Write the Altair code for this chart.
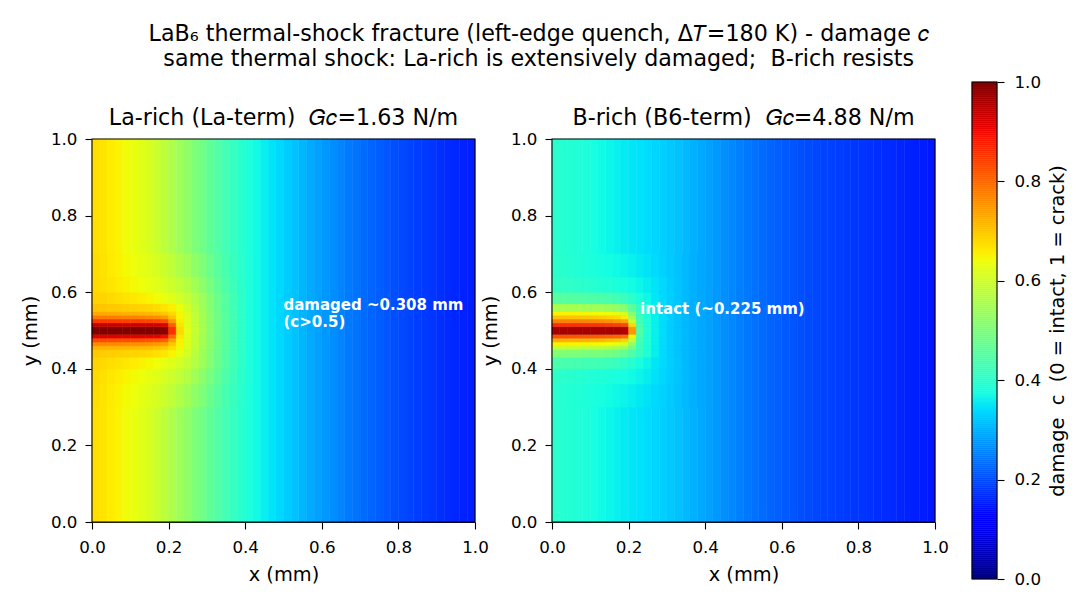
import altair as alt
import pandas as pd

# ---------------- data ----------------
X_STEP = 0.02  # width of one field column (mm); 50 columns span 0..1 mm

# damage c away from the crack, one value per column (centres 0.01 ... 0.99 mm)
bg_la = [0.675, 0.668, 0.660, 0.652, 0.643, 0.633, 0.622, 0.610, 0.595, 0.578,
         0.560, 0.541, 0.522, 0.503, 0.484, 0.465, 0.447, 0.430, 0.414, 0.399,
         0.385, 0.372, 0.360, 0.348, 0.337, 0.326, 0.315, 0.304, 0.293, 0.283,
         0.273, 0.264, 0.255, 0.246, 0.238, 0.230, 0.223, 0.216, 0.209, 0.203,
         0.197, 0.191, 0.186, 0.181, 0.176, 0.171, 0.166, 0.162, 0.158, 0.154]
bg_b = [0.400, 0.396, 0.392, 0.388, 0.384, 0.378, 0.372, 0.366, 0.361, 0.356,
        0.351, 0.346, 0.341, 0.335, 0.329, 0.322, 0.315, 0.307, 0.299, 0.291,
        0.283, 0.275, 0.267, 0.259, 0.251, 0.244, 0.237, 0.230, 0.224, 0.218,
        0.213, 0.208, 0.203, 0.199, 0.195, 0.191, 0.188, 0.185, 0.182, 0.179,
        0.176, 0.173, 0.170, 0.167, 0.164, 0.161, 0.158, 0.155, 0.152, 0.149]

# crack zone: row edges in y (mm); each row holds the first 20 columns (x 0..0.40 mm)
zone_y = [0.30, 0.36, 0.40, 0.43, 0.45, 0.46, 0.47, 0.48, 0.49, 0.51,
          0.52, 0.53, 0.54, 0.55, 0.57, 0.60, 0.64, 0.70]

zone_la = [
    [0.676, 0.669, 0.661, 0.653, 0.645, 0.637, 0.628, 0.619, 0.608, 0.595, 0.580, 0.563, 0.544, 0.523, 0.501, 0.478, 0.456, 0.436, 0.417, 0.400],
    [0.679, 0.672, 0.665, 0.659, 0.652, 0.645, 0.637, 0.629, 0.620, 0.610, 0.598, 0.584, 0.566, 0.544, 0.519, 0.493, 0.468, 0.444, 0.422, 0.402],
    [0.685, 0.680, 0.675, 0.670, 0.665, 0.660, 0.654, 0.647, 0.640, 0.631, 0.620, 0.606, 0.588, 0.566, 0.540, 0.510, 0.481, 0.453, 0.427, 0.405],
    [0.697, 0.694, 0.692, 0.690, 0.688, 0.685, 0.682, 0.678, 0.673, 0.664, 0.652, 0.634, 0.604, 0.573, 0.542, 0.510, 0.480, 0.452, 0.427, 0.405],
    [0.722, 0.721, 0.720, 0.719, 0.718, 0.716, 0.714, 0.711, 0.706, 0.696, 0.676, 0.648, 0.615, 0.582, 0.548, 0.515, 0.484, 0.455, 0.429, 0.406],
    [0.765, 0.764, 0.763, 0.762, 0.760, 0.758, 0.756, 0.753, 0.748, 0.738, 0.700, 0.651, 0.617, 0.583, 0.549, 0.515, 0.484, 0.455, 0.429, 0.406],
    [0.832, 0.831, 0.830, 0.829, 0.828, 0.826, 0.824, 0.821, 0.816, 0.806, 0.740, 0.655, 0.617, 0.583, 0.549, 0.515, 0.484, 0.455, 0.429, 0.406],
    [0.920, 0.920, 0.919, 0.918, 0.917, 0.916, 0.915, 0.913, 0.910, 0.900, 0.800, 0.665, 0.620, 0.585, 0.550, 0.516, 0.484, 0.455, 0.429, 0.406],
    [1.000, 1.000, 1.000, 1.000, 1.000, 1.000, 1.000, 1.000, 1.000, 0.990, 0.860, 0.680, 0.625, 0.590, 0.553, 0.517, 0.485, 0.456, 0.430, 0.407],
    [0.940, 0.940, 0.939, 0.938, 0.937, 0.936, 0.935, 0.933, 0.930, 0.920, 0.810, 0.668, 0.621, 0.586, 0.551, 0.516, 0.484, 0.455, 0.429, 0.406],
    [0.852, 0.851, 0.850, 0.849, 0.848, 0.846, 0.844, 0.841, 0.836, 0.826, 0.750, 0.658, 0.618, 0.584, 0.549, 0.515, 0.484, 0.455, 0.429, 0.406],
    [0.782, 0.781, 0.780, 0.778, 0.776, 0.774, 0.771, 0.767, 0.761, 0.750, 0.705, 0.652, 0.617, 0.583, 0.549, 0.515, 0.484, 0.455, 0.429, 0.406],
    [0.732, 0.730, 0.728, 0.726, 0.724, 0.722, 0.719, 0.715, 0.709, 0.700, 0.680, 0.650, 0.616, 0.582, 0.548, 0.515, 0.484, 0.455, 0.429, 0.406],
    [0.702, 0.700, 0.698, 0.695, 0.692, 0.689, 0.686, 0.682, 0.677, 0.668, 0.656, 0.636, 0.605, 0.574, 0.542, 0.510, 0.480, 0.452, 0.427, 0.405],
    [0.688, 0.684, 0.679, 0.674, 0.669, 0.664, 0.658, 0.651, 0.643, 0.633, 0.621, 0.606, 0.587, 0.565, 0.539, 0.509, 0.480, 0.453, 0.427, 0.405],
    [0.680, 0.673, 0.666, 0.660, 0.653, 0.646, 0.638, 0.630, 0.621, 0.611, 0.599, 0.585, 0.567, 0.545, 0.520, 0.494, 0.468, 0.444, 0.422, 0.402],
    [0.677, 0.670, 0.662, 0.654, 0.646, 0.638, 0.629, 0.620, 0.609, 0.596, 0.581, 0.564, 0.545, 0.524, 0.502, 0.479, 0.457, 0.437, 0.418, 0.400],
]

zone_b = [
    [0.400, 0.396, 0.392, 0.388, 0.386, 0.381, 0.377, 0.373, 0.369, 0.365, 0.360, 0.354, 0.347, 0.339, 0.331, 0.323, 0.315, 0.307, 0.299, 0.291],
    [0.405, 0.401, 0.398, 0.395, 0.393, 0.390, 0.387, 0.384, 0.381, 0.377, 0.372, 0.365, 0.357, 0.347, 0.336, 0.326, 0.317, 0.308, 0.299, 0.291],
    [0.440, 0.438, 0.436, 0.434, 0.432, 0.430, 0.427, 0.423, 0.417, 0.408, 0.395, 0.380, 0.365, 0.351, 0.339, 0.328, 0.318, 0.308, 0.299, 0.291],
    [0.505, 0.504, 0.503, 0.502, 0.500, 0.498, 0.495, 0.490, 0.482, 0.468, 0.445, 0.415, 0.386, 0.360, 0.341, 0.327, 0.316, 0.307, 0.299, 0.291],
    [0.585, 0.584, 0.583, 0.582, 0.580, 0.577, 0.573, 0.567, 0.557, 0.540, 0.490, 0.420, 0.386, 0.360, 0.341, 0.327, 0.316, 0.307, 0.299, 0.291],
    [0.655, 0.654, 0.653, 0.652, 0.650, 0.647, 0.643, 0.637, 0.627, 0.610, 0.530, 0.425, 0.388, 0.361, 0.341, 0.327, 0.316, 0.307, 0.299, 0.291],
    [0.725, 0.724, 0.723, 0.722, 0.720, 0.717, 0.713, 0.707, 0.698, 0.685, 0.580, 0.430, 0.390, 0.362, 0.342, 0.327, 0.316, 0.307, 0.299, 0.291],
    [0.825, 0.824, 0.823, 0.822, 0.820, 0.818, 0.815, 0.811, 0.805, 0.795, 0.650, 0.440, 0.391, 0.362, 0.342, 0.327, 0.316, 0.307, 0.299, 0.291],
    [0.965, 0.965, 0.965, 0.965, 0.965, 0.965, 0.965, 0.965, 0.963, 0.955, 0.750, 0.450, 0.392, 0.362, 0.342, 0.327, 0.316, 0.307, 0.299, 0.291],
    [0.865, 0.864, 0.863, 0.862, 0.860, 0.858, 0.855, 0.851, 0.845, 0.835, 0.680, 0.440, 0.391, 0.362, 0.342, 0.327, 0.316, 0.307, 0.299, 0.291],
    [0.775, 0.774, 0.773, 0.772, 0.770, 0.767, 0.763, 0.757, 0.748, 0.735, 0.600, 0.430, 0.390, 0.362, 0.342, 0.327, 0.316, 0.307, 0.299, 0.291],
    [0.705, 0.704, 0.703, 0.702, 0.700, 0.697, 0.693, 0.687, 0.678, 0.660, 0.550, 0.425, 0.388, 0.361, 0.341, 0.327, 0.316, 0.307, 0.299, 0.291],
    [0.655, 0.654, 0.653, 0.652, 0.650, 0.647, 0.643, 0.637, 0.627, 0.610, 0.510, 0.420, 0.386, 0.360, 0.341, 0.327, 0.316, 0.307, 0.299, 0.291],
    [0.555, 0.554, 0.553, 0.552, 0.550, 0.547, 0.543, 0.537, 0.528, 0.512, 0.460, 0.415, 0.386, 0.360, 0.341, 0.327, 0.316, 0.307, 0.299, 0.291],
    [0.455, 0.453, 0.451, 0.449, 0.447, 0.445, 0.442, 0.437, 0.430, 0.418, 0.402, 0.384, 0.367, 0.352, 0.339, 0.328, 0.318, 0.308, 0.299, 0.291],
    [0.412, 0.409, 0.406, 0.403, 0.400, 0.396, 0.392, 0.388, 0.384, 0.379, 0.373, 0.366, 0.358, 0.348, 0.337, 0.327, 0.317, 0.308, 0.299, 0.291],
    [0.402, 0.398, 0.394, 0.390, 0.387, 0.382, 0.378, 0.374, 0.370, 0.366, 0.361, 0.355, 0.348, 0.340, 0.331, 0.323, 0.315, 0.307, 0.299, 0.291],
]

NB = "\u00a0"  # keeps the doubled spaces of the original texts

# annotations (data coordinates in mm; y is the bottom of the first line)
ann_la_x, ann_la_y, ann_la_text = [0.50], [0.546], ["damaged ~0.308 mm\n(c>0.5)"]
ann_b_x, ann_b_y, ann_b_text = [0.23], [0.535], ["intact (~0.225 mm)"]

tick_values = [0.0, 0.2, 0.4, 0.6, 0.8, 1.0]

title_la = "La-rich (La-term)" + NB * 2 + "𝐺𝑐=1.63 N/m"
title_b = "B-rich (B6-term)" + NB * 2 + "𝐺𝑐=4.88 N/m"
suptitle = ["LaB₆ thermal-shock fracture (left-edge quench, Δ𝑇=180 K) - damage 𝑐",
            "same thermal shock: La-rich is extensively damaged;" + NB * 2 + "B-rich resists"]
cbar_title = "damage" + NB * 2 + "c" + NB * 2 + "(0 = intact, 1 = crack)"

# ---------------- jet colour map ----------------
def _seg(pts, v):
    for (x0, y0), (x1, y1) in zip(pts, pts[1:]):
        if x0 <= v <= x1:
            return y0 if x1 == x0 else y0 + (y1 - y0) * (v - x0) / (x1 - x0)
    return pts[-1][1]


def jet_hex(v):
    r = _seg([(0, 0), (0.35, 0), (0.66, 1), (0.89, 1), (1, 0.5)], v)
    g = _seg([(0, 0), (0.125, 0), (0.375, 1), (0.64, 1), (0.91, 0), (1, 0)], v)
    b = _seg([(0, 0.5), (0.11, 1), (0.34, 1), (0.65, 0), (1, 0)], v)
    return "#%02x%02x%02x" % (round(r * 255), round(g * 255), round(b * 255))


JET_STOPS = [0, 0.11, 0.125, 0.34, 0.35, 0.375, 0.64, 0.65, 0.66, 0.89, 0.91, 1.0]
cscale = alt.Scale(domain=JET_STOPS, range=[jet_hex(s) for s in JET_STOPS],
                   interpolate="rgb")

# ---------------- tables ----------------
def field_table(bg, zone):
    recs = []
    for i, v in enumerate(bg):
        recs.append(dict(x0=i * X_STEP, x1=(i + 1) * X_STEP, y0=0.0, y1=1.0, c=v))
    for r, row in enumerate(zone):
        for i, v in enumerate(row):
            recs.append(dict(x0=i * X_STEP, x1=(i + 1) * X_STEP,
                             y0=zone_y[r], y1=zone_y[r + 1], c=v))
    return pd.DataFrame(recs)


df_la = field_table(bg_la, zone_la)
df_b = field_table(bg_b, zone_b)
ann_la = pd.DataFrame(dict(x0=ann_la_x, y0=ann_la_y, label=ann_la_text))
ann_b = pd.DataFrame(dict(x0=ann_b_x, y0=ann_b_y, label=ann_b_text))

N_CB = 250
cb_df = pd.DataFrame(dict(lo=[i / N_CB for i in range(N_CB)],
                          hi=[(i + 1) / N_CB for i in range(N_CB)],
                          c=[(i + 0.5) / N_CB for i in range(N_CB)]))
one = pd.DataFrame(dict(k=[0]))

# ---------------- chart ----------------
PLOT = 383
CB_W, CB_H = 25, 497
FONT = "DejaVu Sans"


def panel(df, ann, title, view_w, title_dx):
    xs = alt.Scale(domain=[0, 1], nice=False, zero=False, range=[0, PLOT])
    ys = alt.Scale(domain=[0, 1], nice=False, zero=False)
    xaxis = alt.Axis(values=tick_values, format=".1f", title="x (mm)",
                     tickSize=7, labelPadding=10, titlePadding=10)
    yaxis = alt.Axis(values=tick_values, format=".1f", title="y (mm)",
                     tickSize=7, labelPadding=8, titlePadding=10)
    heat = alt.Chart(df).mark_rect(strokeWidth=0.5).encode(
        x=alt.X("x0:Q", scale=xs, axis=xaxis),
        x2="x1:Q",
        y=alt.Y("y0:Q", scale=ys, axis=yaxis),
        y2="y1:Q",
        color=alt.Color("c:Q", scale=cscale, legend=None),
        stroke=alt.Stroke("c:Q", scale=cscale, legend=None),
    )
    frame = alt.Chart(one).mark_rect(fillOpacity=0, stroke="black", strokeWidth=1.1).encode(
        x=alt.datum(0), x2=alt.datum(1), y=alt.datum(0), y2=alt.datum(1))
    txt = alt.Chart(ann).mark_text(align="left", baseline="bottom", color="white",
                                   fontWeight="bold", fontSize=15, lineBreak="\n",
                                   lineHeight=17.5, font=FONT).encode(
        x="x0:Q", y="y0:Q", text="label:N")
    return alt.layer(heat, frame, txt).properties(
        width=view_w, height=PLOT,
        title=alt.TitleParams(title, fontSize=22.2, fontWeight="normal", font=FONT,
                              anchor="middle", frame="group", baseline="alphabetic",
                              offset=14, dx=title_dx, dy=30, color="black"))


left = panel(df_la, ann_la, title_la, PLOT + 40, -20)
right = panel(df_b, ann_b, title_b, PLOT, 0)

cb_axis = alt.Axis(orient="right", values=tick_values, format=".1f", title=cbar_title,
                   tickSize=7, labelPadding=10, domain=False, titleAngle=270,
                   titleBaseline="top", titlePadding=8)
cb_rect = alt.Chart(cb_df).mark_rect(strokeWidth=0.5).encode(
    x=alt.value(0), x2=alt.value(CB_W),
    y=alt.Y("lo:Q", scale=alt.Scale(domain=[0, 1], nice=False, zero=False), axis=cb_axis),
    y2="hi:Q",
    color=alt.Color("c:Q", scale=cscale, legend=None),
    stroke=alt.Stroke("c:Q", scale=cscale, legend=None),
)
cb_frame = alt.Chart(one).mark_rect(fillOpacity=0, stroke="black", strokeWidth=1.1).encode(
    x=alt.value(0), x2=alt.value(CB_W), y=alt.datum(0), y2=alt.datum(1))
cbar = alt.layer(cb_rect, cb_frame).properties(width=CB_W, height=CB_H)

chart = alt.hconcat(left, right, cbar, spacing=37, bounds="flush", center=True).properties(
    title=alt.TitleParams(suptitle, fontSize=22.2, fontWeight="normal", font=FONT,
                          anchor="middle", baseline="bottom", lineHeight=25,
                          offset=-19, dx=-5, color="black"),
    padding={"left": 20, "top": 22, "right": 5, "bottom": 5},
).configure(font=FONT).configure_view(stroke=None).configure_axis(
    labelFontSize=16.7, titleFontSize=19.4, labelFont=FONT, titleFont=FONT,
    labelColor="black", titleColor="black", tickColor="black", domainColor="black",
    tickWidth=1.1, domainWidth=1.1, grid=False, titleFontWeight="normal",
    labelFlush=False, labelOverlap=False,
)

chart.save("out.html", embed_options={"renderer": "svg", "actions": False})
